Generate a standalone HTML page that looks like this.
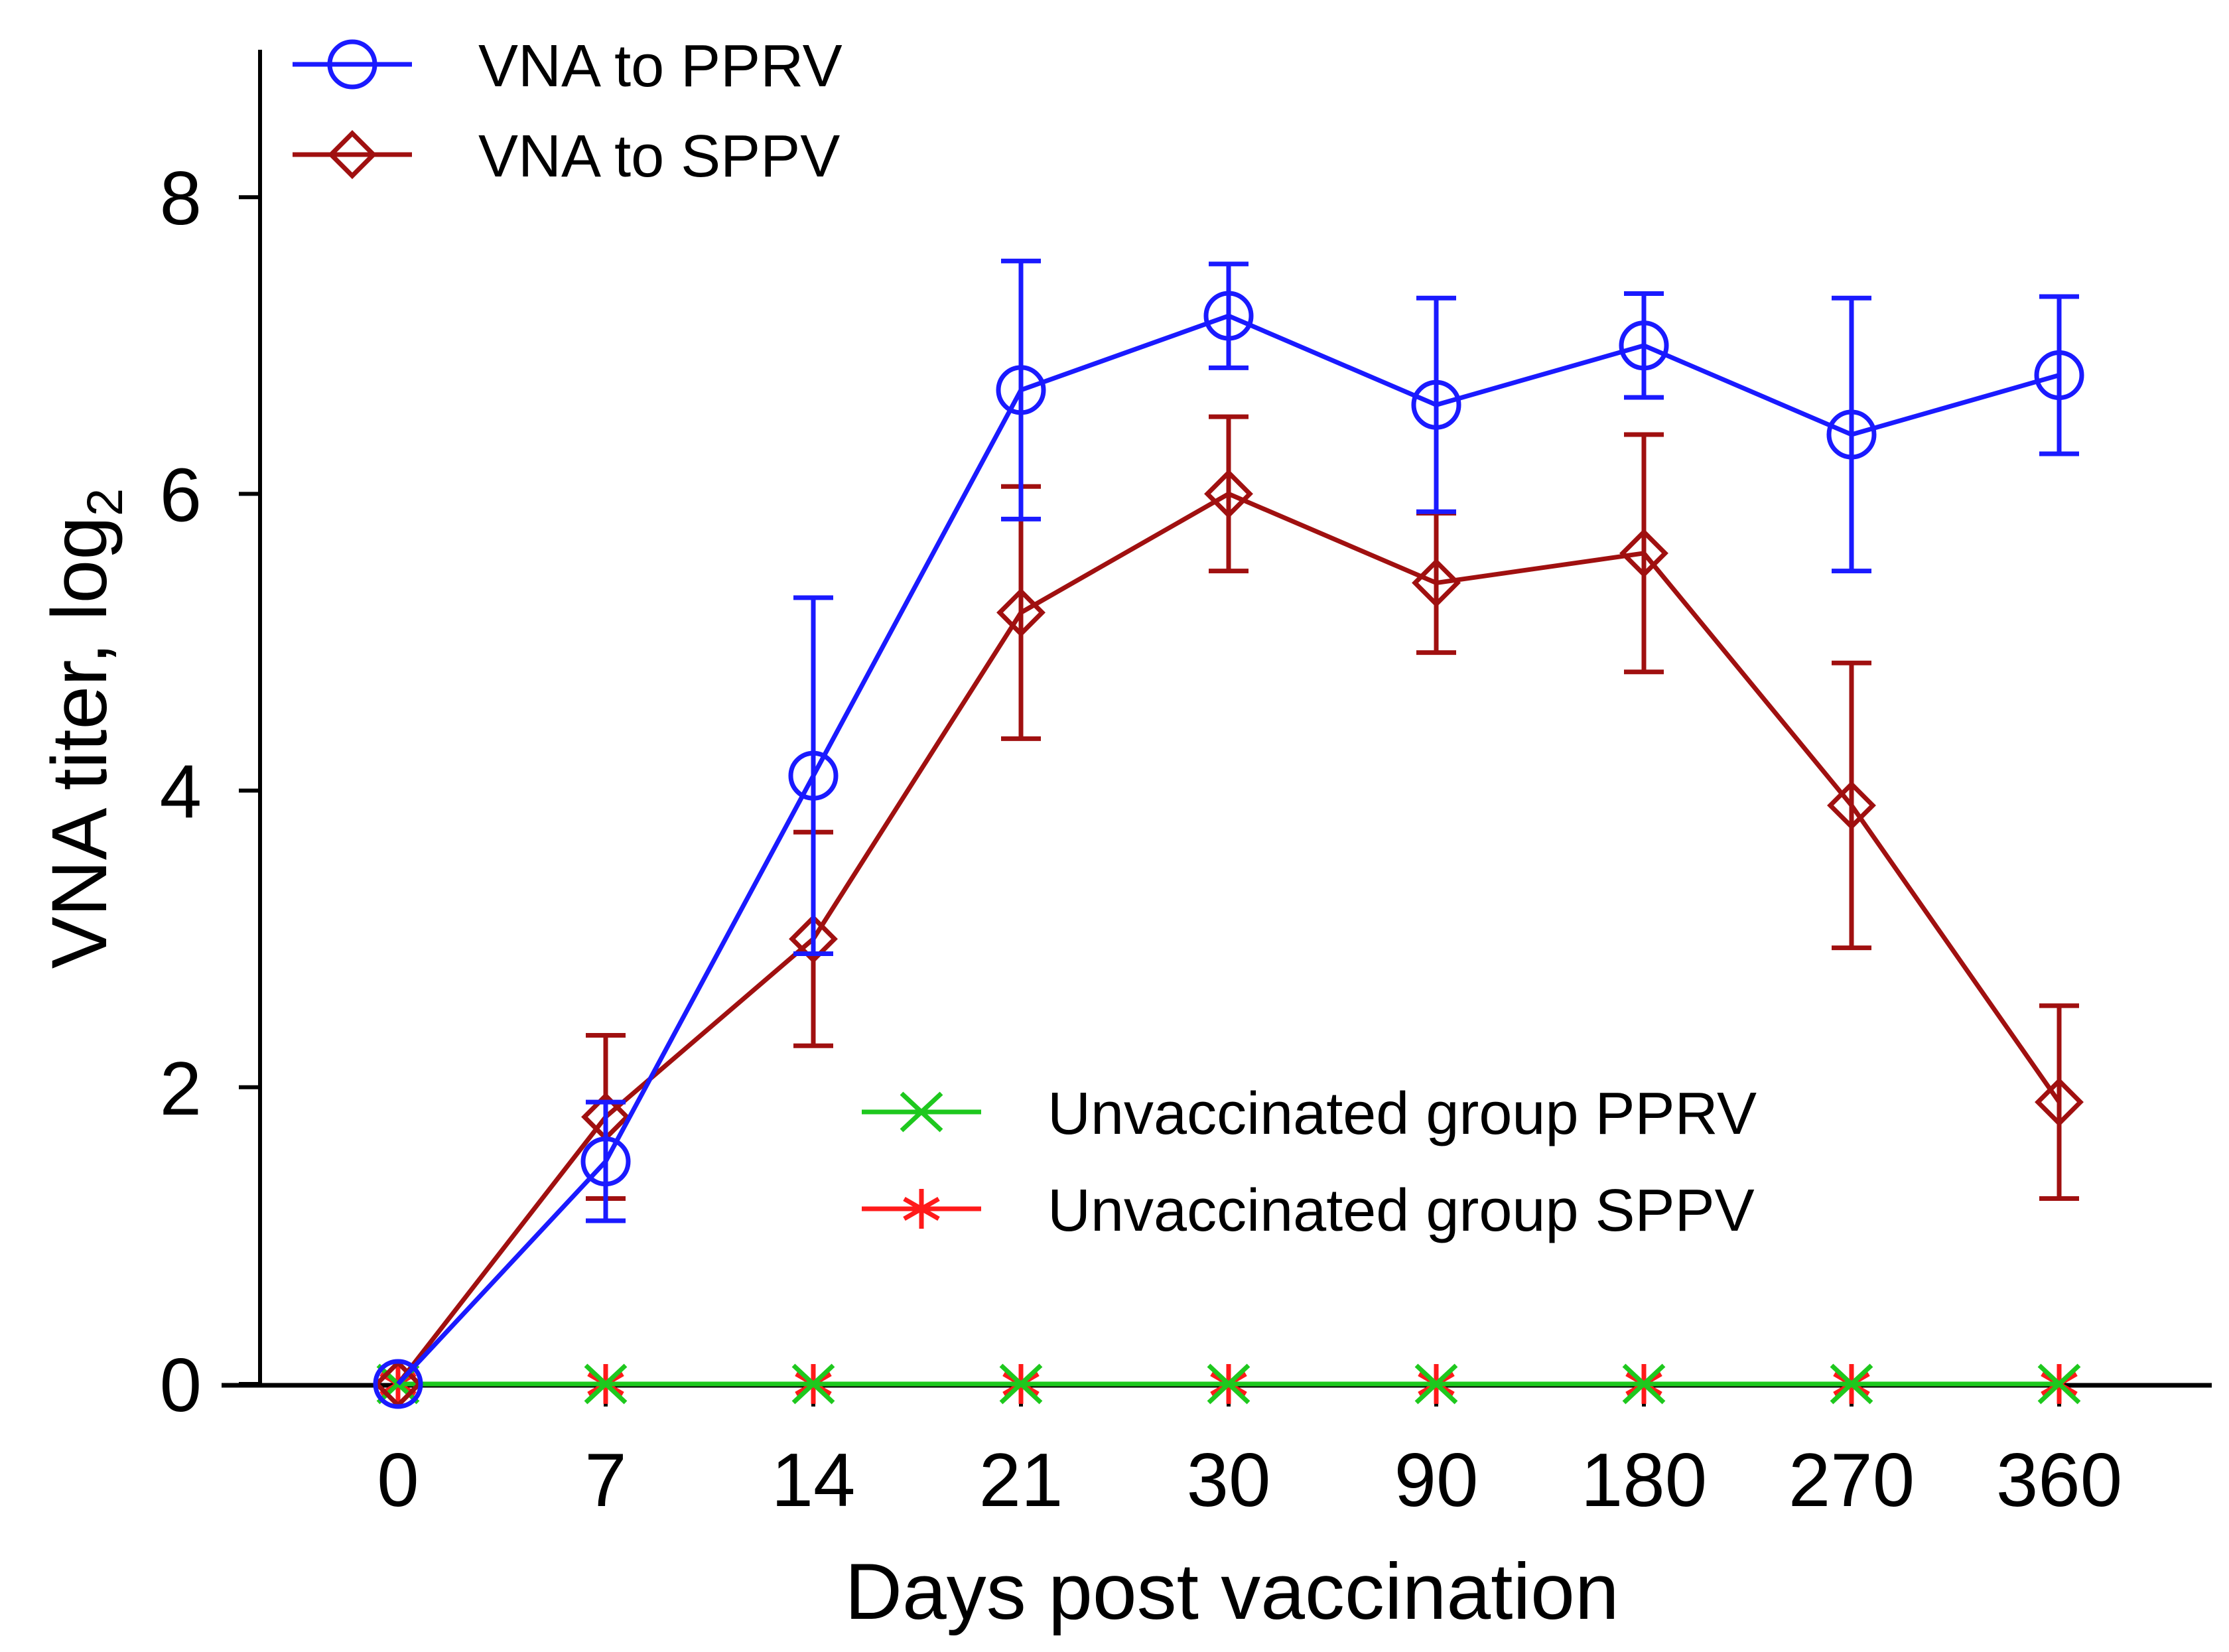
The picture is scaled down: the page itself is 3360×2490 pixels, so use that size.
<!DOCTYPE html>
<html><head><meta charset="utf-8"><style>body{margin:0;background:#fff}svg{display:block}text{font-family:"Liberation Sans",sans-serif}</style></head>
<body>
<svg id="chart" width="3360" height="2490" viewBox="0 0 3360 2490"></svg>
<script>
const categories=["0","7","14","21","30","90","180","270","360"];
const pprvValues=[0,1.5,4.1,6.7,7.2,6.6,7.0,6.4,6.8];
const pprvErr=[0,0.4,1.2,0.87,0.35,0.72,0.35,0.92,0.53];
const sppvValues=[0,1.8,3.0,5.2,6.0,5.4,5.6,3.9,1.9];
const sppvErr=[0,0.55,0.72,0.85,0.52,0.47,0.8,0.96,0.65];
const unvPprv=[0,0,0,0,0,0,0,0,0];
const unvSppv=[0,0,0,0,0,0,0,0,0];
const yTicks=[0,2,4,6,8];

const svg=document.getElementById('chart');
const NS='http://www.w3.org/2000/svg';
const xs=i=>600+i*313;
const ys=v=>2086-v*223.6;
function mk(tag,attrs,parent){const e=document.createElementNS(NS,tag);for(const k in attrs)e.setAttribute(k,attrs[k]);(parent||svg).appendChild(e);return e;}

let g=mk('g',{});


mk('line',{x1:392,y1:75,x2:392,y2:2088,stroke:'#000','stroke-width':6},g);
yTicks.forEach(t=>{
  mk('line',{x1:360,y1:ys(t),x2:392,y2:ys(t),stroke:'#000','stroke-width':6},g);
  const tx=mk('text',{x:304,y:ys(t)+41,'font-size':114,'text-anchor':'end'},g);tx.textContent=t;
  
  
});
g=mk('g',{});


mk('line',{x1:334,y1:2088,x2:3334,y2:2088,stroke:'#000','stroke-width':7},g);
categories.forEach((c,i)=>{
  mk('line',{x1:xs(i),y1:2088,x2:xs(i),y2:2120,stroke:'#000','stroke-width':6},g);
  const tx=mk('text',{x:xs(i),y:2270,'font-size':114,'text-anchor':'middle'},g);tx.textContent=c;
  
  
});
let t=mk('text',{x:1857,y:2440,'font-size':120,'text-anchor':'middle'});t.textContent='Days post vaccination';


t=mk('text',{transform:'translate(160,1098) rotate(-90)','font-size':118,'text-anchor':'middle'});
t.innerHTML='VNA titer, log<tspan font-size="76" dy="24">2</tspan>';



function marker(type,x,y,color,parent){
  if(type==='circle')mk('circle',{cx:x,cy:y,r:34,fill:'none',stroke:color,'stroke-width':7},parent);
  else if(type==='diamond')mk('path',{d:`M${x} ${y-32}L${x+32} ${y}L${x} ${y+32}L${x-32} ${y}Z`,fill:'none',stroke:color,'stroke-width':7},parent);
  else if(type==='x'){mk('path',{d:`M${x-30} ${y-28}L${x+30} ${y+28}M${x-30} ${y+28}L${x+30} ${y-28}`,stroke:color,'stroke-width':7},parent);}
  else {mk('path',{d:`M${x} ${y-30}L${x} ${y+30}M${x-26} ${y-15}L${x+26} ${y+15}M${x-26} ${y+15}L${x+26} ${y-15}`,stroke:color,'stroke-width':7},parent);}
}
function series(name,vals,errs,color,type){
  const gg=mk('g',{});
  
  
  mk('polyline',{points:vals.map((v,i)=>xs(i)+','+ys(v)).join(' '),fill:'none',stroke:color,'stroke-width':7},gg);
  if(errs)vals.forEach((v,i)=>{if(!errs[i])return;const x=xs(i),a=ys(v+errs[i]),b=ys(v-errs[i]);
    mk('path',{d:`M${x} ${a}L${x} ${b}M${x-30} ${a}L${x+30} ${a}M${x-30} ${b}L${x+30} ${b}`,stroke:color,'stroke-width':7,fill:'none'},gg);});
  vals.forEach((v,i)=>marker(type,xs(i),ys(v),color,gg));
}
series('series-unvaccinated-sppv',unvSppv,null,'#ff1a1a','star');
series('series-unvaccinated-pprv',unvPprv,null,'#1ec81e','x');
series('series-vna-sppv',sppvValues,sppvErr,'#a01010','diamond');
series('series-vna-pprv',pprvValues,pprvErr,'#1a1aff','circle');

function legend(name,label,y,x0,color,type){
  const gg=mk('g',{});
  
  
  mk('line',{x1:x0,y1:y,x2:x0+180,y2:y,stroke:color,'stroke-width':7},gg);
  marker(type,x0+90,y,color,gg);
  const tx=mk('text',{x:x0+280,y:y+33,'font-size':90},gg);tx.textContent=label;
}
legend('legend-entry-vna-pprv','VNA to PPRV',97,441,'#1a1aff','circle');
legend('legend-entry-vna-sppv','VNA to SPPV',233,441,'#a01010','diamond');
legend('legend-entry-unvaccinated-pprv','Unvaccinated group PPRV',1676,1299,'#1ec81e','x');
legend('legend-entry-unvaccinated-sppv','Unvaccinated group SPPV',1822,1299,'#ff1a1a','star');
</script>
</body></html>
